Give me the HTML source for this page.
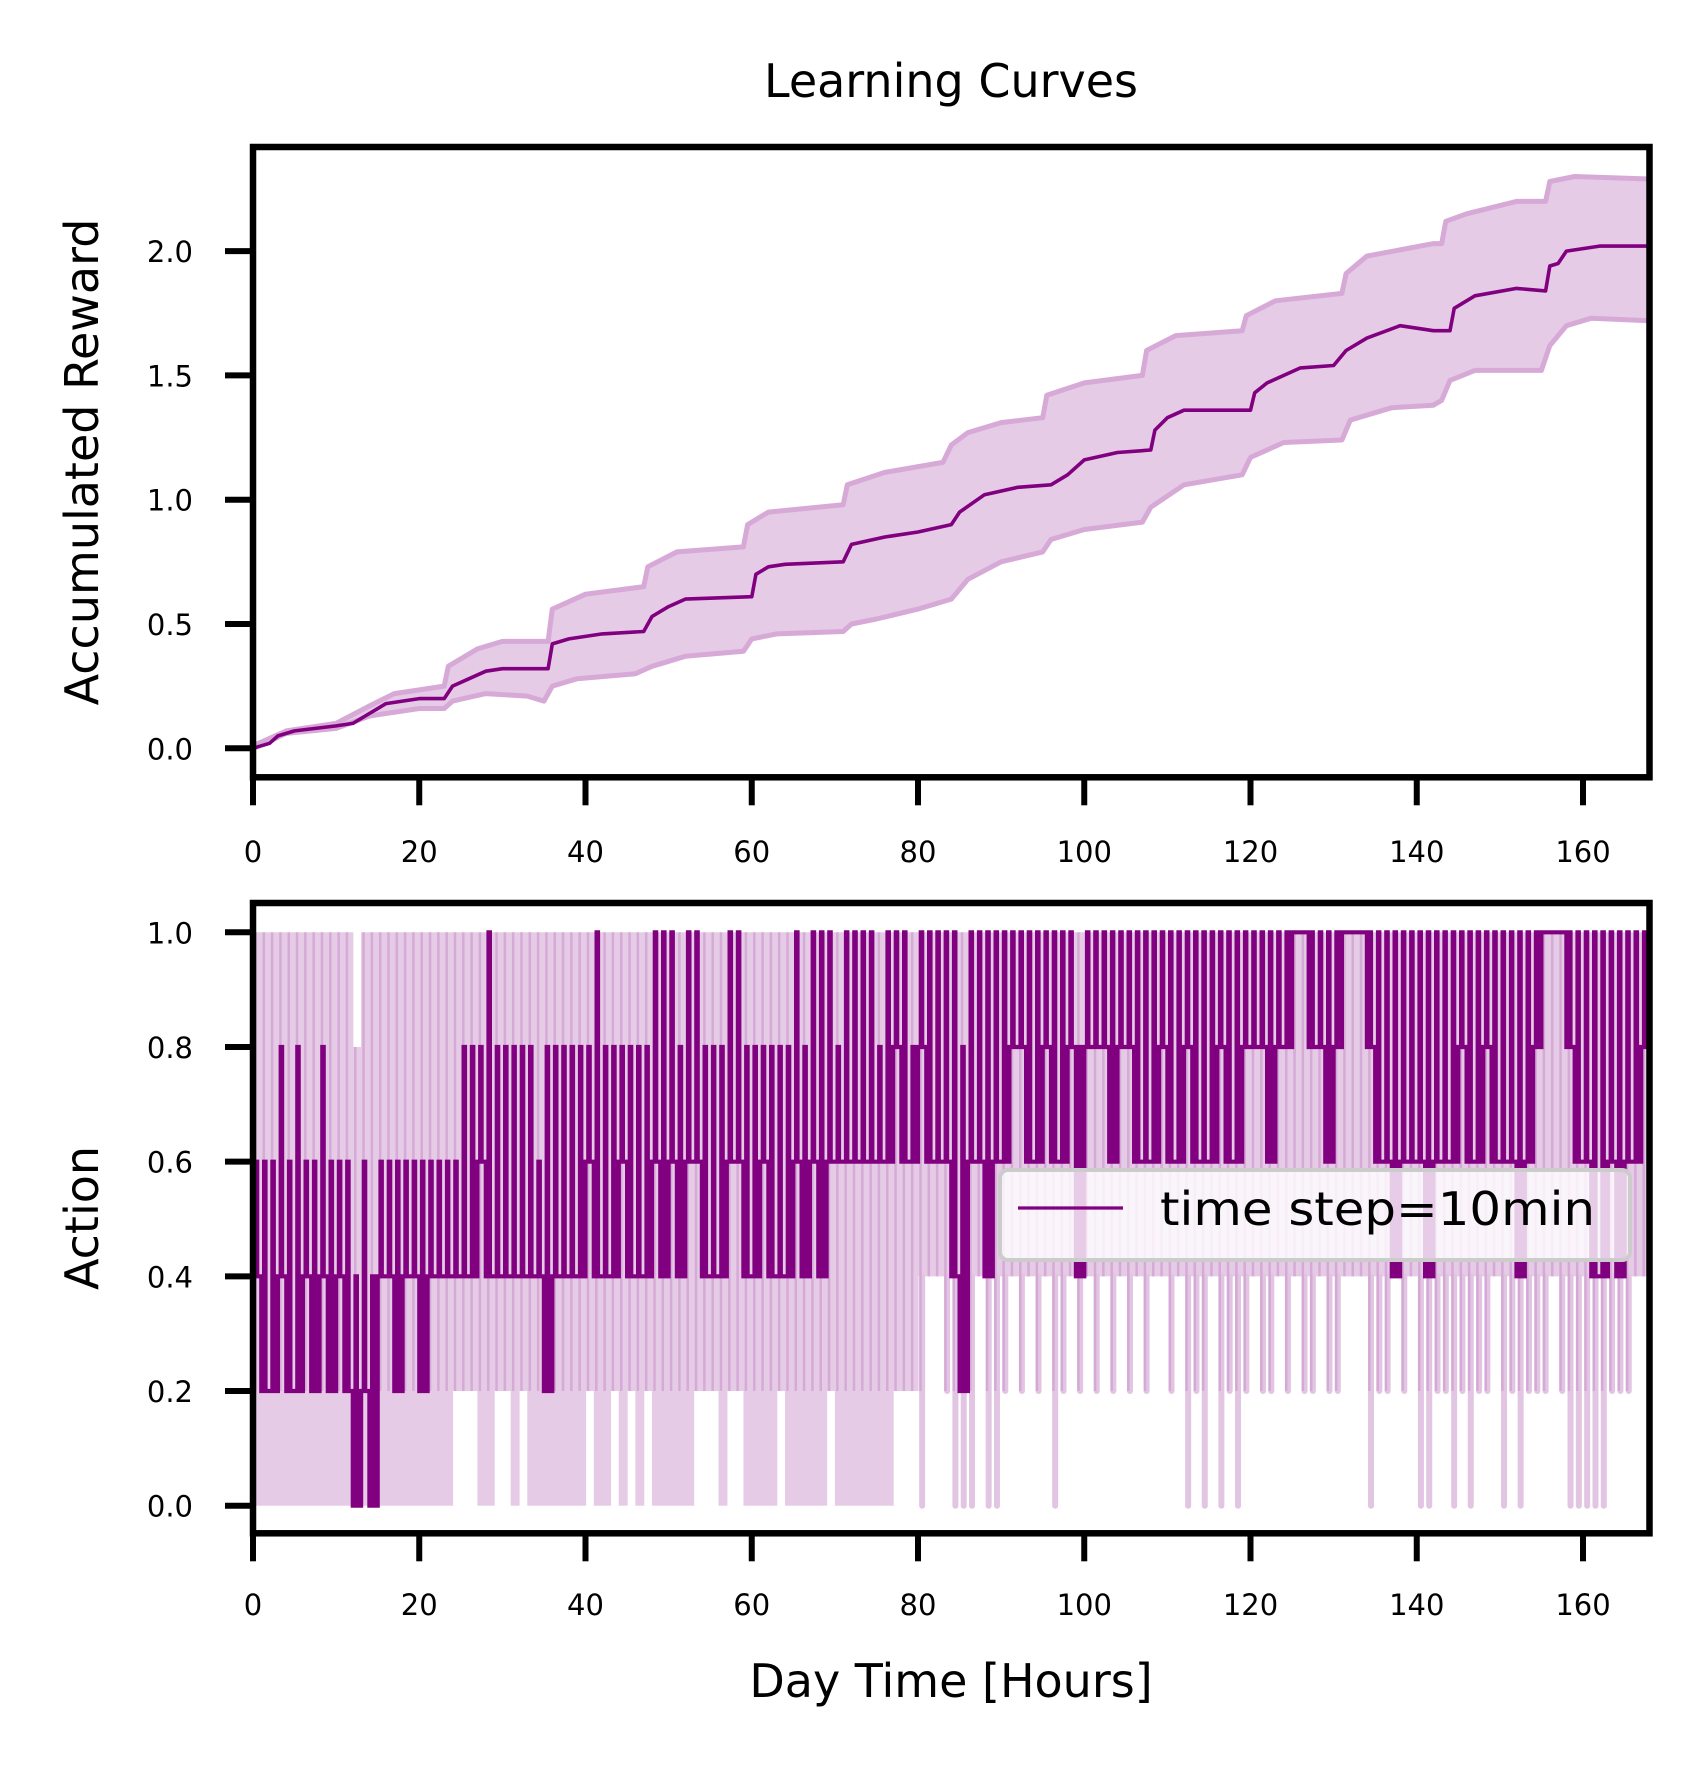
<!DOCTYPE html>
<html><head><meta charset="utf-8">
<style>
html,body{margin:0;padding:0;background:#fff;}
svg{display:block;font-family:"DejaVu Sans","Liberation Sans",sans-serif;}
</style></head>
<body>
<svg id="chart" width="1708" height="1766" viewBox="0 0 1708 1766" xmlns="http://www.w3.org/2000/svg">
<rect x="0" y="0" width="1708" height="1766" fill="#fff"/>
<text x="951" y="97" font-size="46" text-anchor="middle" fill="#000">Learning Curves</text>
<g id="top"></g>
<g id="bottom"></g>
<text x="0" y="0" font-size="46" text-anchor="middle" fill="#000" transform="translate(98,462) rotate(-90)">Accumulated Reward</text>
<text x="0" y="0" font-size="46" text-anchor="middle" fill="#000" transform="translate(98,1218) rotate(-90)">Action</text>
<text x="951" y="1697" font-size="46" text-anchor="middle" fill="#000">Day Time [Hours]</text>
</svg>
<script>
// ---------- top chart data ----------
const meanHours = [0,2,3,5,10,12,14,16,18,20,23,24,26,28,30,35.5,36,38,42,47,48,50,52,60,60.5,62,64,71,72,76,80,84,85,88,92,96,98,100,104,108,108.5,110,112,120,120.5,122,126,130,131.5,134,138,142,144,144.5,147,152,155.5,156,157,158,162,168];
const meanValues = [0,0.02,0.05,0.07,0.09,0.1,0.14,0.18,0.19,0.2,0.2,0.25,0.28,0.31,0.32,0.32,0.42,0.44,0.46,0.47,0.53,0.57,0.6,0.61,0.7,0.73,0.74,0.75,0.82,0.85,0.87,0.9,0.95,1.02,1.05,1.06,1.1,1.16,1.19,1.2,1.28,1.33,1.36,1.36,1.43,1.47,1.53,1.54,1.6,1.65,1.7,1.68,1.68,1.77,1.82,1.85,1.84,1.94,1.95,2.0,2.02,2.02];
const upperHours = [0,4,10,14,17,23,23.5,27,30,35.5,36,40,47,47.5,51,59,59.5,62,71,71.5,76,83,84,86,90,95,95.5,100,107,107.5,111,119,119.5,123,131,131.5,134,142,143,143.5,146,152,155.5,156,159,168];
const upperValues = [0.01,0.07,0.1,0.17,0.22,0.25,0.33,0.4,0.43,0.43,0.56,0.62,0.65,0.73,0.79,0.81,0.9,0.95,0.98,1.06,1.11,1.15,1.22,1.27,1.31,1.33,1.42,1.47,1.5,1.6,1.66,1.68,1.74,1.8,1.83,1.91,1.98,2.03,2.03,2.12,2.15,2.2,2.2,2.28,2.3,2.29];
const lowerHours = [0,4,10,14,20,23,24,28,33,35,36,39,46,48,52,59,60,63,71,72,75,80,84,86,90,95,96,100,107,108,112,119,120,124,131,132,137,142,143,144,147,155,156,158,161,168];
const lowerValues = [0,0.06,0.08,0.13,0.16,0.16,0.19,0.22,0.21,0.19,0.25,0.28,0.3,0.33,0.37,0.39,0.44,0.46,0.47,0.5,0.52,0.56,0.6,0.68,0.75,0.79,0.84,0.88,0.91,0.97,1.06,1.1,1.17,1.23,1.24,1.32,1.37,1.38,1.4,1.48,1.52,1.52,1.62,1.7,1.73,1.72];
const xTickLabels = ["0","20","40","60","80","100","120","140","160"];
const topYTickLabels = ["0.0","0.5","1.0","1.5","2.0"];
const botYTickLabels = ["0.0","0.2","0.4","0.6","0.8","1.0"];

// ---------- bottom chart data (per hour) ----------
const actionMeanLo = [
.4,.2,.2,.4,.2,.2,.4,.2,.4,.2,.4,.2,
0,.2,0,.4,.4,.2,.4,.4,.2,.4,.4,.4,
.4,.4,.4,.6,.4,.4,.4,.4,.4,.4,.4,.2,
.4,.4,.4,.4,.6,.4,.4,.4,.6,.4,.4,.4,
.6,.4,.6,.4,.6,.6,.4,.4,.4,.6,.6,.4,
.4,.6,.4,.4,.4,.6,.4,.6,.4,.6,.6,.6,
.6,.6,.6,.6,.6,.8,.6,.6,.8,.6,.6,.6,
.4,.2,.6,.6,.4,.6,.6,.8,.8,.6,.6,.8,
.6,.6,.8,.4,.8,.8,.8,.6,.8,.8,.6,.6,
.6,.8,.6,.6,.8,.6,.6,.6,.8,.6,.6,.8,
.8,.8,.6,.8,.8,1,1,.8,.8,.6,.8,1,
1,1,.8,.6,.6,.4,.6,.6,.6,.4,.6,.6,
.6,.8,.6,.6,.8,.6,.6,.6,.4,.6,.8,1,
1,1,.8,.6,.6,.4,.4,.6,.4,.6,.6,.8];
const actionMeanHi = [
.6,.6,.6,.8,.6,.8,.6,.6,.8,.6,.6,.6,
.4,.6,.4,.6,.6,.6,.6,.6,.6,.6,.6,.6,
.6,.8,.8,.8,1,.8,.8,.8,.8,.8,.6,.8,
.8,.8,.8,.8,.8,1,.8,.8,.8,.8,.8,.8,
1,1,1,.8,1,1,.8,.8,.8,1,1,.8,
.8,.8,.8,.8,.8,1,.8,1,1,1,.8,1,
1,1,1,.8,1,1,1,.8,1,1,1,1,
1,.8,1,1,1,1,1,1,1,1,1,1,
1,1,1,.8,1,1,1,1,1,1,1,1,
1,1,1,1,1,1,1,1,1,1,1,1,
1,1,1,1,1,1,1,1,1,1,1,1,
1,1,1,1,1,1,1,1,1,1,1,1,
1,1,1,1,1,1,1,1,1,1,1,1,
1,1,1,1,1,1,1,1,1,1,1,1];
const actionBandLo = [
0,0,0,0,0,0,0,0,0,0,0,0,
0,0,0,0,0,0,0,0,0,0,0,0,
.2,.2,.2,0,0,.2,.2,0,.2,0,0,0,
0,0,0,0,.2,0,0,.2,0,.2,0,.2,
0,0,0,0,0,.2,.2,.2,0,.2,.2,0,
0,0,0,.2,0,0,0,0,0,.2,0,0,
0,0,0,0,0,.2,.2,.2,0,.4,.4,.2,
0,0,0,.4,0,0,.2,.4,.2,.4,.2,.4,
0,.2,.4,.2,.4,.2,.4,.2,.4,.2,.4,.2,
.4,.4,.2,.4,0,.2,0,.4,0,.2,0,.2,
.4,.2,.2,.4,.2,.4,.2,.2,.4,.2,.2,.4,
.4,.4,0,.2,.2,.4,.2,.4,0,0,.2,.2,
0,.2,0,.2,.2,.4,0,.2,0,.2,.2,.2,
.4,.2,0,0,0,0,0,.2,.2,.2,.4,.4];
const actionBandHi = [
1,1,1,1,1,1,1,1,1,1,1,1,
.8,1,1,1,1,1,1,1,1,1,1,1,
1,1,1,1,1,1,1,1,1,1,1,1,
1,1,1,1,1,1,1,1,1,1,1,1,
1,1,1,1,1,1,1,1,1,1,1,1,
1,1,1,1,1,1,1,1,1,1,1,1,
1,1,1,1,1,1,1,1,1,1,1,1,
1,1,1,1,1,1,1,1,1,1,1,1,
1,1,1,1,1,1,1,1,1,1,1,1,
1,1,1,1,1,1,1,1,1,1,1,1,
1,1,1,1,1,1,1,1,1,1,1,1,
1,1,1,1,1,1,1,1,1,1,1,1,
1,1,1,1,1,1,1,1,1,1,1,1,
1,1,1,1,1,1,1,1,1,1,1,1];

const NS = "http://www.w3.org/2000/svg";
const AX_L = 253, AX_R = 1649.5;
const X = h => AX_L + h * (AX_R - AX_L) / 168;
const topY = v => 748.3 - v * 248.6;
const botY = v => 1505.7 - v * 573.4;
function mk(tag, attrs, parent){ const e=document.createElementNS(NS,tag); for(const k in attrs) e.setAttribute(k,attrs[k]); parent.appendChild(e); return e; }
function stepPts(hs, vs, Yf){ return hs.map((h,i)=>X(h).toFixed(1)+","+Yf(vs[i]).toFixed(1)); }

function axesFrame(g, top, bottom, Yf, yLabels, labelBaseline, namePrefix){
  xTickLabels.forEach((lab)=>{
    const h = +lab;
    const t = mk('line',{x1:X(h),x2:X(h),y1:bottom,y2:bottom+28,stroke:'#000','stroke-width':6},g);
    
    
    const tx = mk('text',{x:X(h),y:labelBaseline,'font-size':29,'text-anchor':'middle',fill:'#000'},g);
    tx.textContent = lab;
    
    
  });
  yLabels.forEach((lab)=>{
    const y = Yf(+lab);
    const t = mk('line',{x1:AX_L-28,x2:AX_L,y1:y,y2:y,stroke:'#000','stroke-width':6},g);
    
    
    const tx = mk('text',{x:AX_L-60,y:y+11,'font-size':29,'text-anchor':'end',fill:'#000'},g);
    tx.textContent = lab;
    
    
  });
  const r = mk('rect',{x:AX_L,y:top,width:AX_R-AX_L,height:bottom-top,fill:'none',stroke:'#000','stroke-width':6.5},g);
  
  
}

// ---------- top chart ----------
(function(){
  const g = document.getElementById('top');
  const up = stepPts(upperHours, upperValues, topY);
  const lo = stepPts(lowerHours, lowerValues, topY).reverse();
  const band = mk('polygon',{points:up.concat(lo).join(' '),fill:'#e5cbe5',stroke:'none'},g);
  
  
  const ul = mk('polyline',{points:up.join(' '),fill:'none',stroke:'#d7a9d7','stroke-width':5,'stroke-linejoin':'round'},g);
  
  
  const ll = mk('polyline',{points:stepPts(lowerHours, lowerValues, topY).join(' '),fill:'none',stroke:'#d7a9d7','stroke-width':5,'stroke-linejoin':'round'},g);
  
  
  const ml = mk('polyline',{points:stepPts(meanHours, meanValues, topY).join(' '),fill:'none',stroke:'#800080','stroke-width':3.6,'stroke-linejoin':'round'},g);
  
  
  axesFrame(g, 147, 777.3, topY, topYTickLabels, 862, 'top');
})();

// ---------- bottom chart ----------
(function(){
  const g = document.getElementById('bottom');
  const cw = (AX_R-AX_L)/168;
  for(let h=0; h<168; h++){
    const lo = actionBandLo[h], hi = actionBandHi[h];
    if(h < 80){
      const r = mk('rect',{x:X(h),y:botY(hi),width:cw+0.6,height:botY(lo)-botY(hi),fill:'#e5cbe5'},g);
      
      
    } else {
      const r = mk('rect',{x:X(h),y:botY(hi),width:cw+0.6,height:botY(0.4)-botY(hi),fill:'#e5cbe5'},g);
      
      
      if(lo < 0.4){
        const s = mk('line',{x1:X(h+0.5),x2:X(h+0.5),y1:botY(0.4),y2:botY(lo),stroke:'#e2c5e2','stroke-width':6,'stroke-linecap':'round'},g);
        
        
      }
    }
    const e = mk('line',{x1:X(h+0.3),x2:X(h+0.3),y1:botY(hi),y2:botY(Math.max(lo,0.2)),stroke:'#d3a3d3','stroke-width':2.5,opacity:0.8},g);
    
    
  }
  // mean line: six 10-minute steps per hour, one excursion per hour
  const pattern = [0,0,1,0,0,0];
  let d = '';
  for(let h=0; h<168; h++){
    for(let k=0;k<6;k++){
      const v = pattern[k] ? actionMeanHi[h] : actionMeanLo[h];
      const x0 = X(h + k/6), x1 = X(h + (k+1)/6);
      d += (d ? 'L' : 'M') + x0.toFixed(1) + ',' + botY(v).toFixed(1) + 'L' + x1.toFixed(1) + ',' + botY(v).toFixed(1);
    }
  }
  const ml = mk('path',{d:d,fill:'none',stroke:'#800080','stroke-width':4.2,'stroke-linejoin':'miter'},g);
  
  
  axesFrame(g, 903, 1533.3, botY, botYTickLabels, 1615, 'bottom');
  const lg = mk('g',{},g);
  
  
  const box = mk('rect',{x:1000,y:1170,width:630,height:90,rx:8,fill:'#ffffff','fill-opacity':0.8,stroke:'#cccccc','stroke-width':4},lg);
  
  
  const ln = mk('line',{x1:1018,x2:1123,y1:1208,y2:1208,stroke:'#800080','stroke-width':3.2},lg);
  
  
  const lt = mk('text',{x:1160,y:1225,'font-size':46,fill:'#000',textLength:435,lengthAdjust:'spacingAndGlyphs'},lg);
  lt.textContent = 'time step=10min';
  
  
})();
</script>
</body></html>
